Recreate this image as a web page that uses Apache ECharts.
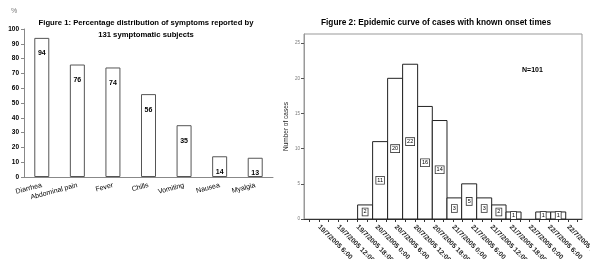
<!DOCTYPE html>
<html>
<head>
<meta charset="utf-8">
<script src="https://cdn.jsdelivr.net/npm/echarts@6/dist/echarts.min.js"></script>
<style>
  html, body { margin: 0; padding: 0; background: #fff; }
  #chart { width: 590px; height: 259px; }
</style>
</head>
<body>
<div id="chart"></div>
<script>
// figure 1: symptoms
var symptoms = ['Diarrhea', 'Abdominal pain', 'Fever', 'Chills', 'Vomiting', 'Nausea', 'Myalgia'];
var symptomPct = [94, 76, 74, 56, 35, 14, 13];

// figure 2: epidemic curve, hours counted from 19/7/2005 0:00
var binStart = [18.1, 22.8, 27.5, 32.2, 36.9, 41.5, 46.1, 50.7, 55.4, 60.1, 64.6, 73.9, 78.6];
var binEnd = [22.8, 27.5, 32.2, 36.9, 41.5, 46.1, 50.7, 55.4, 60.1, 64.6, 69.3, 78.6, 83.3];
var binCases = [2, 11, 20, 22, 16, 14, 3, 5, 3, 2, 1, 1, 1];
var caseTicks = [0, 5, 10, 15, 20, 25];
var timeLabels = [6, 12, 18, 24, 30, 36, 42, 48, 54, 60, 66, 72, 78, 84];
var timeTicks = [3, 6, 9, 12, 15, 18, 21, 24, 27, 30, 33, 36, 39, 42, 45, 48, 51, 54, 57, 60, 63, 66, 69, 72, 75, 78, 81, 84, 87];

var FONT = '"Liberation Sans", Arial, sans-serif';

var myEcharts = echarts.init(document.getElementById('chart'));

var epiData = binCases.map(function (c, i) {
  return [binStart[i], binEnd[i], c];
});

function fmtTime(h) {
  return (19 + Math.floor(h / 24)) + '/7/2005 ' + (h % 24) + ':00';
}

var option = {
  animation: false,
  textStyle: { fontFamily: FONT },
  title: [
    {
      text: 'Figure 1: Percentage distribution of symptoms reported by\n131 symptomatic subjects',
      left: 141, top: 12, textAlign: 'center',
      textStyle: { fontSize: 7.7, fontWeight: 'bold', color: '#000', lineHeight: 12, fontFamily: FONT }
    },
    {
      text: 'Figure 2: Epidemic curve of cases with known onset times',
      left: 431, top: 14, textAlign: 'center',
      textStyle: { fontSize: 8.3, fontWeight: 'bold', color: '#000', fontFamily: FONT }
    }
  ],
  graphic: [
    { type: 'text', left: 11, top: 8, style: { text: '%', fill: '#777', font: '7px ' + FONT } },
    { type: 'text', left: 522, top: 67, style: { text: 'N=101', fill: '#000', font: 'bold 7px ' + FONT } }
  ],
  grid: [
    { left: 24, right: 317, top: 29, bottom: 82, outerBoundsMode: 'none' },
    {
      left: 304, right: 8, top: 34, bottom: 40, outerBoundsMode: 'none',
      show: true, borderColor: '#999', borderWidth: 1, backgroundColor: 'transparent'
    }
  ],
  xAxis: [
    {
      gridIndex: 0,
      type: 'category',
      data: symptoms,
      axisLine: { lineStyle: { color: '#888' } },
      axisTick: { length: 3, lineStyle: { color: '#888' } },
      axisLabel: { rotate: 15, fontSize: 7, color: '#000', margin: 8, interval: 0 }
    },
    {
      gridIndex: 1,
      type: 'value',
      min: 1.3, max: 88.4,
      splitLine: { show: false },
      axisLine: { lineStyle: { color: '#333' } },
      axisTick: { length: 3, customValues: timeTicks, lineStyle: { color: '#333' } },
      axisLabel: {
        rotate: -45, fontSize: 6.8, fontWeight: 'bold', color: '#222', margin: 7,
        customValues: timeLabels,
        formatter: fmtTime
      }
    }
  ],
  yAxis: [
    {
      gridIndex: 0,
      type: 'value',
      min: 0, max: 100, interval: 10,
      splitLine: { show: false },
      axisLine: { show: true, lineStyle: { color: '#888' } },
      axisTick: { show: true, length: 3, lineStyle: { color: '#888' } },
      axisLabel: { fontSize: 6.5, fontWeight: 'bold', color: '#000', margin: 5 }
    },
    {
      gridIndex: 1,
      type: 'value',
      min: 0, max: 26.3,
      name: 'Number of cases',
      nameLocation: 'middle',
      nameGap: 14,
      nameTextStyle: { fontSize: 6.5, color: '#222' },
      splitLine: { show: false },
      axisLine: { show: true, lineStyle: { color: '#999' } },
      axisTick: { show: true, length: 3, customValues: caseTicks, lineStyle: { color: '#555' } },
      axisLabel: { fontSize: 4.5, color: '#777', margin: 4, customValues: caseTicks }
    }
  ],
  series: [
    {
      type: 'bar',
      xAxisIndex: 0, yAxisIndex: 0,
      data: symptomPct,
      barWidth: 15,
      itemStyle: { color: '#fff', borderColor: '#555', borderWidth: 1 },
      label: {
        show: true, position: 'insideTop', distance: 12,
        fontSize: 7, fontWeight: 'bold', color: '#000'
      }
    },
    {
      type: 'custom',
      xAxisIndex: 1, yAxisIndex: 1,
      data: epiData,
      encode: { x: [0, 1], y: 2 },
      renderItem: function (params, api) {
        var p0 = api.coord([api.value(0), api.value(2)]);
        var p1 = api.coord([api.value(1), 0]);
        return {
          type: 'rect',
          shape: { x: p0[0], y: p0[1], width: p1[0] - p0[0], height: p1[1] - p0[1] },
          style: { fill: '#fff', stroke: '#222', lineWidth: 1 },
          textContent: {
            style: {
              text: String(api.value(2)),
              font: '5.5px ' + FONT, fill: '#000',
              borderColor: '#333', borderWidth: 0.8, padding: [1, 1, 0, 1], backgroundColor: '#fff'
            }
          },
          textConfig: { position: 'inside' }
        };
      }
    }
  ]
};

myEcharts.setOption(option);
</script>
</body>
</html>
